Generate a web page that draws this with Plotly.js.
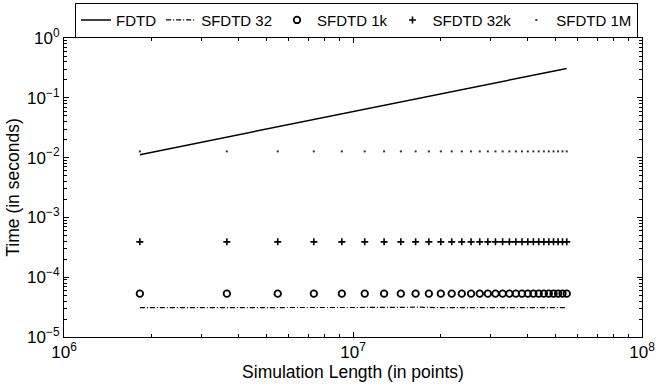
<!DOCTYPE html>
<html>
<head>
<meta charset="utf-8">
<script src="https://cdn.plot.ly/plotly-3.0.1.min.js"></script>
<style>html,body{margin:0;padding:0;background:#fff;}#chart{width:656px;height:387px;}</style>
</head>
<body>
<div id="chart"></div>
<script>
// Simulation length (points)
const simLength = [1830000, 3660000, 5490000, 7320000, 9150000, 10980000, 12810000, 14640000, 16470000, 18300000,
  20130000, 21960000, 23790000, 25620000, 27450000, 29280000, 31110000, 32940000, 34770000, 36600000,
  38430000, 40260000, 42090000, 43920000, 45750000, 47580000, 49410000, 51240000, 53070000, 54900000];
// Times (seconds)
const fdtd = [0.0112, 0.0220, 0.0327, 0.0433, 0.0539, 0.0644, 0.0748, 0.0852, 0.0956, 0.106,
  0.1163, 0.1266, 0.1369, 0.1472, 0.1574, 0.1677, 0.1779, 0.1881, 0.1983, 0.2085,
  0.2186, 0.2288, 0.2389, 0.2491, 0.2592, 0.2693, 0.2794, 0.2894, 0.2995, 0.3096];
const sfdtd32 = [3.10e-5, 3.09e-5, 3.14e-5, 3.10e-5, 3.09e-5, 3.11e-5, 3.10e-5, 3.12e-5, 3.16e-5, 3.10e-5,
  3.09e-5, 3.10e-5, 3.11e-5, 3.10e-5, 3.09e-5, 3.10e-5, 3.13e-5, 3.15e-5, 3.11e-5, 3.10e-5,
  3.09e-5, 3.10e-5, 3.10e-5, 3.11e-5, 3.09e-5, 3.10e-5, 3.10e-5, 3.09e-5, 3.10e-5, 3.09e-5];
const sfdtd1k = [5.3e-5, 5.3e-5, 5.3e-5, 5.3e-5, 5.3e-5, 5.3e-5, 5.3e-5, 5.3e-5, 5.3e-5, 5.3e-5,
  5.3e-5, 5.3e-5, 5.3e-5, 5.3e-5, 5.3e-5, 5.3e-5, 5.3e-5, 5.3e-5, 5.3e-5, 5.3e-5,
  5.3e-5, 5.3e-5, 5.3e-5, 5.3e-5, 5.3e-5, 5.3e-5, 5.3e-5, 5.3e-5, 5.3e-5, 5.3e-5];
const sfdtd32k = [3.9e-4, 3.9e-4, 3.9e-4, 3.9e-4, 3.9e-4, 3.9e-4, 3.9e-4, 3.9e-4, 3.9e-4, 3.9e-4,
  3.9e-4, 3.9e-4, 3.9e-4, 3.9e-4, 3.9e-4, 3.9e-4, 3.9e-4, 3.9e-4, 3.9e-4, 3.9e-4,
  3.9e-4, 3.9e-4, 3.9e-4, 3.9e-4, 3.9e-4, 3.9e-4, 3.9e-4, 3.9e-4, 3.9e-4, 3.9e-4];
const sfdtd1M = [0.0127, 0.0127, 0.0127, 0.0127, 0.0127, 0.0127, 0.0127, 0.0127, 0.0127, 0.0127,
  0.0127, 0.0127, 0.0127, 0.0127, 0.0127, 0.0127, 0.0127, 0.0127, 0.0127, 0.0127,
  0.0127, 0.0127, 0.0127, 0.0127, 0.0127, 0.0127, 0.0127, 0.0127, 0.0127, 0.0127];

const seriesNames = ['FDTD', 'SFDTD 32', 'SFDTD 1k', 'SFDTD 32k', 'SFDTD 1M'];
const xTickVals = [1e6, 1e7, 1e8];
const xTickText = ['10<sup>6</sup>', '10<sup>7</sup>', '10<sup>8</sup>'];
const yTickVals = [1e-5, 1e-4, 1e-3, 1e-2, 1e-1, 1];
const yTickText = ['10<sup>−5</sup>', '10<sup>−4</sup>', '10<sup>−3</sup>', '10<sup>−2</sup>', '10<sup>−1</sup>', '10<sup>0</sup>'];

function minorVals(lo, hi) {
  const v = [];
  for (let e = lo; e < hi; e++) for (let m = 2; m <= 9; m++) v.push(m * Math.pow(10, e));
  return v;
}

const font = 'Liberation Sans, Arial, sans-serif';
const traces = [
  {x: simLength, y: fdtd, name: seriesNames[0], mode: 'lines', line: {color: '#000', width: 1.5}},
  {x: simLength, y: sfdtd32, name: seriesNames[1], mode: 'lines', line: {color: '#000', width: 1.2, dash: '5px,2px,1px,2px'}},
  {x: simLength, y: sfdtd1k, name: seriesNames[2], mode: 'markers',
   marker: {symbol: 'circle-open', size: 6.5, color: '#000', line: {width: 1.8, color: '#000'}}},
  {x: simLength, y: sfdtd32k, name: seriesNames[3], mode: 'markers',
   marker: {symbol: 'cross-thin-open', size: 5, color: '#000', line: {width: 1.6, color: '#000'}}},
  {x: simLength, y: sfdtd1M, name: seriesNames[4], mode: 'markers',
   marker: {symbol: 'square', size: 2, color: '#333', line: {width: 0}}}
];

const axisCommon = {
  type: 'log', showgrid: false, zeroline: false, showline: true, mirror: 'ticks',
  linecolor: '#000', linewidth: 1, ticks: 'inside', ticklen: 5, tickcolor: '#000', tickwidth: 1,
  tickmode: 'array', tickfont: {family: font, size: 17, color: '#000'}
};

const layout = {
  width: 656, height: 387,
  margin: {l: 64, r: 14, t: 38, b: 50},
  paper_bgcolor: '#fff', plot_bgcolor: '#fff',
  font: {family: font, color: '#000'},
  showlegend: true,
  legend: {
    orientation: 'h', x: 0.506, xanchor: 'center', yref: 'container', y: 0.993, yanchor: 'top',
    bordercolor: '#000', borderwidth: 1, bgcolor: '#fff',
    font: {family: font, size: 15, color: '#000'},
    tracegroupgap: 0, itemwidth: 30
  },
  xaxis: Object.assign({}, axisCommon, {
    range: [6, 8], tickvals: xTickVals, ticktext: xTickText,
    minor: {tickmode: 'array', tickvals: minorVals(6, 8), ticks: 'inside', ticklen: 3, tickcolor: '#000'},
    title: {text: 'Simulation Length (in points)', font: {family: font, size: 17.5, color: '#000'}, standoff: 0}
  }),
  yaxis: Object.assign({}, axisCommon, {
    range: [-5, 0], tickvals: yTickVals, ticktext: yTickText,
    minor: {tickmode: 'array', tickvals: minorVals(-5, 0), ticks: 'inside', ticklen: 3, tickcolor: '#000'},
    title: {text: 'Time (in seconds)', font: {family: font, size: 17.5, color: '#000'}, standoff: 2}
  })
};

Plotly.newPlot('chart', traces, layout, {displayModeBar: false, staticPlot: true});
</script>
</body>
</html>
